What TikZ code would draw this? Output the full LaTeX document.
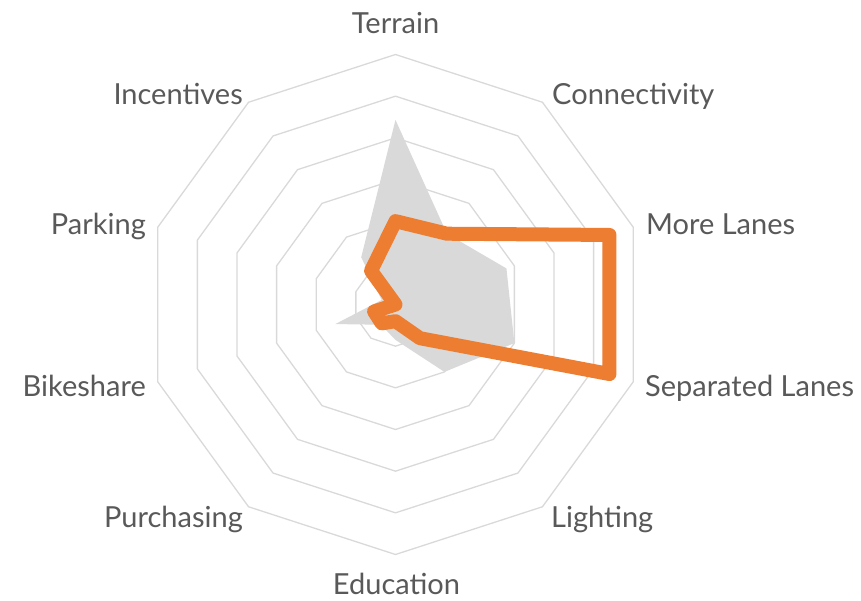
\documentclass[tikz,border=0pt]{standalone}
\usepackage{fontspec}
\setmainfont{Lato}
\definecolor{gridgray}{HTML}{D9D9D9}
\definecolor{areagray}{HTML}{D9D9D9}
\definecolor{laneorange}{HTML}{ED7D31}
\definecolor{labelgray}{HTML}{595959}
\tikzstyle{grid ring}=[draw=gridgray, line width=1.3pt, line join=round]
\tikzstyle{base area}=[fill=areagray]
\tikzstyle{plan line}=[draw=laneorange, line width=14pt, line join=round]
\tikzstyle{spoke label}=[text=labelgray, inner sep=0pt, font=\fontsize{29}{34}\selectfont]
\newcommand{\ringunit}{41.667}

\begin{document}
\begin{tikzpicture}[x=1pt,y=1pt]
	\useasboundingbox (-395.5,-295.5) rectangle (465.5,304.5);
	% rings
	\foreach \k in {1,...,6} {
		\draw[grid ring] (90:{\k*\ringunit}) \foreach \a in {54,18,...,-234} { -- (\a:{\k*\ringunit}) } -- cycle;
	}
	% grey series
	\foreach \v [count=\i] in {4.43,2.1,2.8,3.0,2.0,0.85,0.6,1.52,0.35,1.4}
		\coordinate (g\i) at ({126-36*\i}:{\v*\ringunit});
	\fill[base area] (g1) -- (g2) -- (g3) -- (g4) -- (g5) -- (g6) -- (g7) -- (g8) -- (g9) -- (g10) -- cycle;
	% orange series
	\foreach \v [count=\i] in {2,2.1,5.4,5.4,1,0.4,0.56,0.54,0,1}
		\coordinate (p\i) at ({126-36*\i}:{\v*\ringunit});
	\draw[plan line] (p1) -- (p2) -- (p3) -- (p4) -- (p5) -- (p6) -- (p7) -- (p8) -- (p9) -- (p10) -- cycle;
	% labels
	\node[spoke label, anchor=base] (terrain) at (0,271.2) {Terrain};
	\node[spoke label, anchor=base west] (connectivity) at (156.5,199.5) {Connectivity};
	\node[spoke label, anchor=base west] (morelanes) at (250.5,70.2) {More Lanes};
	\node[spoke label, anchor=base west] (seplanes) at (249.5,-91.5) {Separated Lanes};
	\node[spoke label, anchor=base west] (lighting) at (155.5,-222.5) {Lighting};
	\node[spoke label, anchor=base] (education) at (1,-289.8) {Education};
	\node[spoke label, anchor=base east] (purchasing) at (-152.5,-222.5) {Purchasing};
	\node[spoke label, anchor=base east] (bikeshare) at (-249.5,-91.5) {Bikeshare};
	\node[spoke label, anchor=base east] (parking) at (-249.5,70.2) {Parking};
	\node[spoke label, anchor=base east] (incentives) at (-152.5,199.5) {Incentives};
\end{tikzpicture}
\end{document}
